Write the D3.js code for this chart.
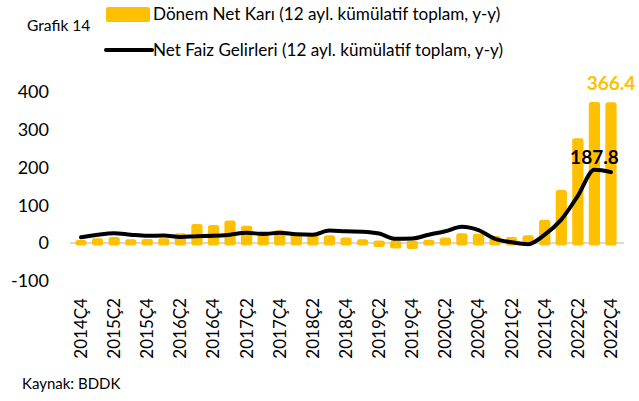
<!DOCTYPE html>
<html><head><meta charset="utf-8">
<script src="https://cdn.jsdelivr.net/npm/d3@7"></script>
<style>
html,body{margin:0;padding:0;background:#fff;}
text{font-family:Lato,"Open Sans",sans-serif;}
</style></head>
<body><svg id="c" width="639" height="401"></svg>
<script>
const quarters = ["2014Ç4","2015Ç1","2015Ç2","2015Ç3","2015Ç4","2016Ç1","2016Ç2","2016Ç3","2016Ç4","2017Ç1","2017Ç2","2017Ç3","2017Ç4","2018Ç1","2018Ç2","2018Ç3","2018Ç4","2019Ç1","2019Ç2","2019Ç3","2019Ç4","2020Ç1","2020Ç2","2020Ç3","2020Ç4","2021Ç1","2021Ç2","2021Ç3","2021Ç4","2022Ç1","2022Ç2","2022Ç3","2022Ç4"];
const netProfit = [1,6,9,3,4,6,19,44,41,53,39,25,27,17,17,14,8,3.5,-4,-8,-9,2,8,19,18,12,9,14,55,134,271,367,366.4];
const netInterest = [15,22,26,22,19,20,16,18,19,22,27,24,27,23,22,33,31,30,25,11,12,22,31,43,34,11,2,-3,22,62,125,194,187.8];
const yTicks = [-100,0,100,200,300,400];
const tickLabels = ["2014Ç4","2015Ç2","2015Ç4","2016Ç2","2016Ç4","2017Ç2","2017Ç4","2018Ç2","2018Ç4","2019Ç2","2019Ç4","2020Ç2","2020Ç4","2021Ç2","2021Ç4","2022Ç2","2022Ç4"];
const seriesNames = ["Dönem Net Karı (12 ayl. kümülatif toplam, y-y)","Net Faiz Gelirleri (12 ayl. kümülatif toplam, y-y)"];
const gold = "#FFC000";

const svg = d3.select("#c");
const x = d3.scaleBand().domain(quarters).range([69.6, 622.4]).padding(0.38);
const y = d3.scaleLinear().domain([-100,400]).range([280.75, 92]);

// zero line
svg.append("line").attr("x1",70).attr("x2",624).attr("y1",y(0)).attr("y2",y(0))
  .attr("stroke","#d9d9d9").attr("stroke-width",2);

// bars
svg.append("g").selectAll("rect").data(quarters).join("rect")
  .attr("x",d=>x(d)+2)
  .attr("width",x.bandwidth()-4)
  .attr("y",(d,i)=>Math.min(y(netProfit[i]),y(0)))
  .attr("height",(d,i)=>Math.abs(y(netProfit[i])-y(0)))
  .attr("fill",gold).attr("stroke",gold).attr("stroke-width",5).attr("stroke-linejoin","round");

// line
const line = d3.line().x((d,i)=>x(quarters[i])+x.bandwidth()/2).y(d=>y(d)).curve(d3.curveMonotoneX);
svg.append("path").datum(netInterest).attr("d",line).attr("fill","none")
  .attr("stroke","#000").attr("stroke-width",4).attr("stroke-linecap","round").attr("stroke-linejoin","round");

// y axis labels
const yAxis = d3.axisLeft(y).tickValues(yTicks).tickSize(0).tickPadding(0).tickFormat(d=>String(d));
const ga = svg.append("g").attr("transform","translate(49,0)").call(yAxis);
ga.select(".domain").remove();
ga.selectAll("text").attr("font-size",18).attr("fill","#000").attr("font-family","Lato");

// x axis labels
const xAxis = d3.axisBottom(x).tickValues(tickLabels).tickSize(0);
const gx = svg.append("g").attr("transform","translate(0,298)").call(xAxis);
gx.select(".domain").remove();
gx.selectAll("text").attr("font-size",17).attr("fill","#000").attr("font-family","Lato")
  .attr("text-anchor","end").attr("transform","rotate(-90)").attr("x",0).attr("y",0).attr("dy","0.35em");

// value labels
const last = quarters.length-1;
svg.append("text").attr("x",x(quarters[last])+x.bandwidth()/2).attr("y",83).attr("dy","0.35em")
  .attr("text-anchor","middle").attr("font-weight","bold").attr("font-size",19).attr("fill",gold)
  .text(d3.format(".1f")(netProfit[last]));
svg.append("text").attr("x",x(quarters[last-1])+x.bandwidth()/2).attr("y",157).attr("dy","0.35em")
  .attr("text-anchor","middle").attr("font-weight","bold").attr("font-size",19).attr("fill","#000")
  .text(d3.format(".1f")(netInterest[last]));

// title / legend / source
svg.append("text").attr("x",27).attr("y",26).attr("dy","0.35em").attr("font-size",15.6).text("Grafik 14");
svg.append("rect").attr("x",106).attr("y",7).attr("width",44).attr("height",15).attr("rx",2).attr("fill",gold);
svg.append("text").attr("x",153).attr("y",14.5).attr("dy","0.35em").attr("font-size",17.1).text(seriesNames[0]);
svg.append("line").attr("x1",106).attr("x2",152).attr("y1",50).attr("y2",50).attr("stroke","#000").attr("stroke-width",4).attr("stroke-linecap","round");
svg.append("text").attr("x",153).attr("y",50).attr("dy","0.35em").attr("font-size",17.1).text(seriesNames[1]);
svg.append("text").attr("x",22).attr("y",384).attr("dy","0.35em").attr("font-size",15).text("Kaynak: BDDK");
</script></body></html>
